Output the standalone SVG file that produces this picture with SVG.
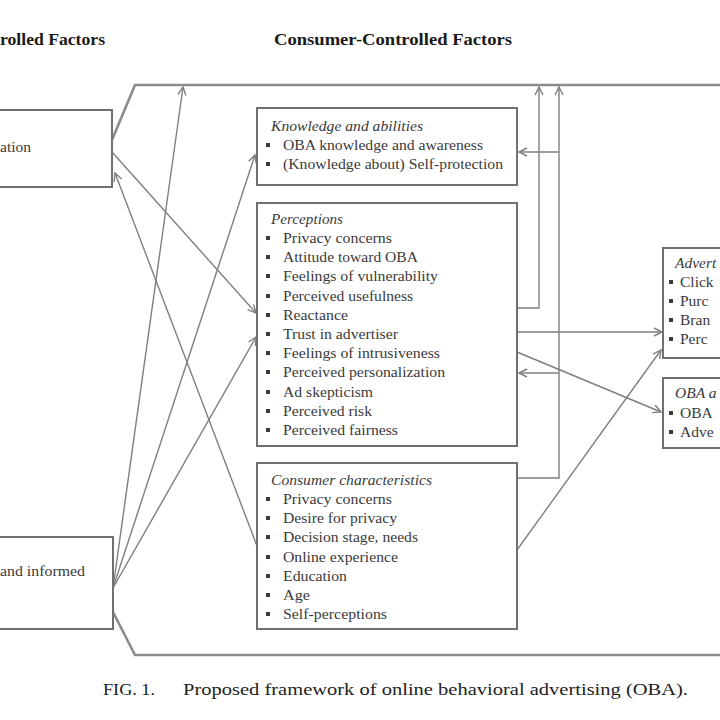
<svg xmlns="http://www.w3.org/2000/svg" width="720" height="720" viewBox="0 0 720 720">
<style>
.bg{fill:#fff}
.box{fill:#fff;stroke:#707070;stroke-width:2}
.t{font-family:"Liberation Serif","Times New Roman",serif;font-size:15.5px;fill:#3a3a3a}
.i{font-style:italic}
.h{font-family:"Liberation Serif","Times New Roman",serif;font-size:17px;font-weight:bold;fill:#1a1a1a}
.cap{font-family:"Liberation Serif","Times New Roman",serif;font-size:17px;fill:#222}
.c{fill:none;stroke:#7f7f7f;stroke-width:1.4}
.long{fill:none;stroke:#8c8c8c;stroke-width:2.6}
.b{fill:#3a3a3a}
</style>
<defs>
<marker id="ah" markerUnits="userSpaceOnUse" markerWidth="12" markerHeight="12" refX="9" refY="5" orient="auto" viewBox="0 0 12 10">
<path d="M1,1 L9,5 L1,9" fill="none" stroke="#7f7f7f" stroke-width="1.4"/>
</marker>
<rect id="bul" width="4" height="4"/>
</defs>
<rect class="bg" x="0" y="0" width="720" height="720"/>

<text class="h" x="0" y="45" textLength="105" lengthAdjust="spacingAndGlyphs">rolled Factors</text>
<text class="h" x="274" y="45" textLength="238" lengthAdjust="spacingAndGlyphs">Consumer-Controlled Factors</text>

<g id="connectors">
<polyline class="long" points="112,140 135,85 722,85"/>
<polyline class="long" points="112,610 135,655 722,655"/>
<line class="c" x1="113" y1="588" x2="183" y2="87" marker-end="url(#ah)"/>
<line class="c" x1="113" y1="588" x2="255" y2="155" marker-end="url(#ah)"/>
<line class="c" x1="113" y1="588" x2="256" y2="337" marker-end="url(#ah)"/>
<line class="c" x1="112" y1="152" x2="256" y2="313" marker-end="url(#ah)"/>
<line class="c" x1="257" y1="546" x2="115" y2="173" marker-end="url(#ah)"/>
<polyline class="c" points="517,308 539,308 539,87" marker-end="url(#ah)"/>
<polyline class="c" points="517,478 559,478 559,87" marker-end="url(#ah)"/>
<line class="c" x1="559" y1="152" x2="519" y2="152" marker-end="url(#ah)"/>
<line class="c" x1="559" y1="373" x2="519" y2="373" marker-end="url(#ah)"/>
<line class="c" x1="517" y1="332" x2="662" y2="332" marker-end="url(#ah)"/>
<line class="c" x1="517" y1="352" x2="661" y2="412" marker-end="url(#ah)"/>
<line class="c" x1="517" y1="550" x2="661" y2="350" marker-end="url(#ah)"/>
</g>

<g id="adv-personalization">
<rect class="box" x="-10" y="110" width="122" height="77"/>
<text class="t" x="0" y="152">ation</text>
</g>

<g id="adv-transparency">
<rect class="box" x="-10" y="537" width="123" height="92"/>
<text class="t" x="0" y="576" textLength="85" lengthAdjust="spacingAndGlyphs">and informed</text>
</g>

<g id="knowledge">
<rect class="box" x="257" y="108" width="260" height="77"/>
<text class="t i" x="271" y="131" textLength="152" lengthAdjust="spacingAndGlyphs">Knowledge and abilities</text>
<use href="#bul" class="b" x="266" y="143"/>
<text class="t" x="283" y="150" textLength="200" lengthAdjust="spacingAndGlyphs">OBA knowledge and awareness</text>
<use href="#bul" class="b" x="266" y="162"/>
<text class="t" x="283" y="169" textLength="220" lengthAdjust="spacingAndGlyphs">(Knowledge about) Self-protection</text>
</g>

<g id="perceptions">
<rect class="box" x="257" y="203" width="260" height="243"/>
<text class="t i" x="271" y="224" textLength="72" lengthAdjust="spacingAndGlyphs">Perceptions</text>
<use href="#bul" class="b" x="266" y="236"/>
<text class="t" x="283" y="243" textLength="109" lengthAdjust="spacingAndGlyphs">Privacy concerns</text>
<use href="#bul" class="b" x="266" y="255"/>
<text class="t" x="283" y="262" textLength="135" lengthAdjust="spacingAndGlyphs">Attitude toward OBA</text>
<use href="#bul" class="b" x="266" y="274"/>
<text class="t" x="283" y="281" textLength="155" lengthAdjust="spacingAndGlyphs">Feelings of vulnerability</text>
<use href="#bul" class="b" x="266" y="294"/>
<text class="t" x="283" y="301" textLength="130" lengthAdjust="spacingAndGlyphs">Perceived usefulness</text>
<use href="#bul" class="b" x="266" y="313"/>
<text class="t" x="283" y="320" textLength="65" lengthAdjust="spacingAndGlyphs">Reactance</text>
<use href="#bul" class="b" x="266" y="332"/>
<text class="t" x="283" y="339" textLength="115" lengthAdjust="spacingAndGlyphs">Trust in advertiser</text>
<use href="#bul" class="b" x="266" y="351"/>
<text class="t" x="283" y="358" textLength="157" lengthAdjust="spacingAndGlyphs">Feelings of intrusiveness</text>
<use href="#bul" class="b" x="266" y="370"/>
<text class="t" x="283" y="377" textLength="162" lengthAdjust="spacingAndGlyphs">Perceived personalization</text>
<use href="#bul" class="b" x="266" y="390"/>
<text class="t" x="283" y="397" textLength="90" lengthAdjust="spacingAndGlyphs">Ad skepticism</text>
<use href="#bul" class="b" x="266" y="409"/>
<text class="t" x="283" y="416" textLength="89" lengthAdjust="spacingAndGlyphs">Perceived risk</text>
<use href="#bul" class="b" x="266" y="428"/>
<text class="t" x="283" y="435" textLength="115" lengthAdjust="spacingAndGlyphs">Perceived fairness</text>
</g>

<g id="consumer-characteristics">
<rect class="box" x="257" y="463" width="260" height="166"/>
<text class="t i" x="271" y="485" textLength="161" lengthAdjust="spacingAndGlyphs">Consumer characteristics</text>
<use href="#bul" class="b" x="266" y="497"/>
<text class="t" x="283" y="504" textLength="109" lengthAdjust="spacingAndGlyphs">Privacy concerns</text>
<use href="#bul" class="b" x="266" y="516"/>
<text class="t" x="283" y="523" textLength="114" lengthAdjust="spacingAndGlyphs">Desire for privacy</text>
<use href="#bul" class="b" x="266" y="535"/>
<text class="t" x="283" y="542" textLength="135" lengthAdjust="spacingAndGlyphs">Decision stage, needs</text>
<use href="#bul" class="b" x="266" y="555"/>
<text class="t" x="283" y="562" textLength="115" lengthAdjust="spacingAndGlyphs">Online experience</text>
<use href="#bul" class="b" x="266" y="574"/>
<text class="t" x="283" y="581" textLength="64" lengthAdjust="spacingAndGlyphs">Education</text>
<use href="#bul" class="b" x="266" y="593"/>
<text class="t" x="283" y="600" textLength="27" lengthAdjust="spacingAndGlyphs">Age</text>
<use href="#bul" class="b" x="266" y="612"/>
<text class="t" x="283" y="619" textLength="104" lengthAdjust="spacingAndGlyphs">Self-perceptions</text>
</g>

<g id="advertising-outcomes">
<rect class="box" x="663" y="248" width="70" height="110"/>
<text class="t i" x="675" y="268">Advert</text>
<use href="#bul" class="b" x="669" y="280"/>
<text class="t" x="680" y="287">Click</text>
<use href="#bul" class="b" x="669" y="299"/>
<text class="t" x="680" y="306">Purc</text>
<use href="#bul" class="b" x="669" y="318"/>
<text class="t" x="680" y="325">Bran</text>
<use href="#bul" class="b" x="669" y="337"/>
<text class="t" x="680" y="344">Perc</text>
</g>

<g id="oba-outcomes">
<rect class="box" x="663" y="378" width="70" height="70"/>
<text class="t i" x="675" y="398">OBA a</text>
<use href="#bul" class="b" x="669" y="411"/>
<text class="t" x="680" y="418">OBA</text>
<use href="#bul" class="b" x="669" y="430"/>
<text class="t" x="680" y="437">Adve</text>
</g>

<text class="cap" y="695"><tspan x="103" textLength="52" lengthAdjust="spacingAndGlyphs">FIG. 1.</tspan><tspan x="183" textLength="505" lengthAdjust="spacingAndGlyphs">Proposed framework of online behavioral advertising (OBA).</tspan></text>
</svg>
